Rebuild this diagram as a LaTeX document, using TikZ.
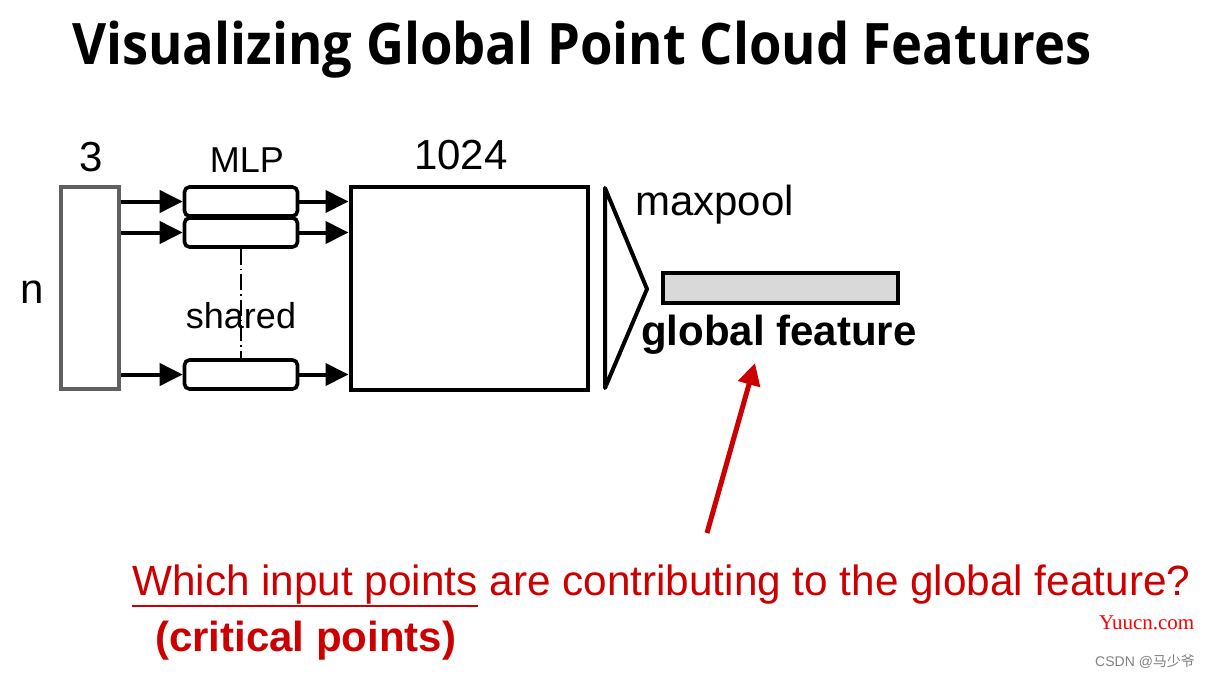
\documentclass[tikz,border=0pt]{standalone}
\usepackage{fontspec}
\usepackage{graphicx}
\setmainfont{Liberation Sans}
\newfontfamily\titlefont{Open Sans}
\newfontfamily\wmfont{Liberation Serif}
\newfontfamily\cjkfont{Noto Sans CJK SC}
\usetikzlibrary{arrows.meta,calc}
\definecolor{redtxt}{HTML}{CC0000}
\definecolor{boxgray}{HTML}{606060}
\definecolor{featgray}{HTML}{D9D9D9}
\newcommand\redul[1]{{\setbox0\hbox{#1}\rlap{\color{redtxt}\rule[-12pt]{\wd0}{1.8pt}}\box0}}
\tikzset{
  blk/.style={draw=black,line width=4pt,inner sep=0pt},
  mlpbox/.style={draw=black,line width=3.6pt,rounded corners=5pt,minimum width=113pt,minimum height=29pt,inner sep=0pt},
  flow/.style={line width=4pt,-{Triangle[length=23pt,width=22pt]}},
  lbl/.style={inner sep=0pt,font=\fontsize{42}{46}\selectfont},
  sml/.style={inner sep=0pt,font=\fontsize{36}{40}\selectfont},
  dd/.style={line width=1.3pt,dash pattern=on 16pt off 4pt on 1.5pt off 4pt},
}
\begin{document}
\begin{tikzpicture}[x=1pt,y=-1pt]
\useasboundingbox (0,0) rectangle (1210,678);
% title
\node[inner sep=0pt,anchor=base west] (title) at (72,64) {\scalebox{1}[1.09]{\titlefont\bfseries\fontsize{52.5}{60}\selectfont Visualizing Global Point Cloud Features}};
% input
\node[blk,draw=boxgray,minimum width=58pt,minimum height=202pt] (in) at (90,288) {};
\node[lbl] (three) at (91,157) {3};
\node[lbl] (n) at (32,292) {n};
% MLP
\node[sml] (mlp) at (247,160) {MLP};
\node[mlpbox] (m1) at (241,201.5) {};
\node[mlpbox] (m2) at (241,232.5) {};
\node[mlpbox] (m3) at (241,374.5) {};
\draw[dd] (m2.south) -- (m3.north);
\node[sml] (shared) at (241,316) {shared};
% big
\node[blk,minimum width=237pt,minimum height=203pt] (big) at (469,288) {};
\node[lbl] (k) at (461,155) {1024};
% arrows
\foreach \m in {m1,m2,m3}{
  \draw[flow] (\m.west -| in.east) -- (\m.west);
  \draw[flow] (\m.east) -- (\m.east -| big.west);
}
% maxpool
\coordinate (p1) at (605,188);
\coordinate (p2) at (647,289);
\coordinate (p3) at (605,388);
\draw[line width=4pt,line join=round] (p1) -- (p2) -- (p3) -- cycle;
\node[lbl,anchor=base west] (mp) at (635,215) {maxpool};
% global feature
\node[blk,fill=featgray,minimum width=235pt,minimum height=30pt] (gf) at (780,288) {};
\node[lbl,anchor=base west,font=\bfseries\fontsize{42}{46}\selectfont] (gft) at (641,345) {global feature};
% red question
\node[inner sep=0pt,anchor=base west,text=redtxt,font=\fontsize{42.3}{46}\selectfont] (q) at (132,595) {\redul{Which input points} are contributing to the global feature?};
\node[inner sep=0pt,anchor=base west,text=redtxt,font=\bfseries\fontsize{42}{46}\selectfont] (cp) at (155,651) {(critical points)};
\coordinate (qa) at (707,533);
\draw[redtxt,line width=5pt,-{Triangle[length=22pt,width=22pt]}] (qa) -- (755,363);
% watermarks
\node[inner sep=0pt,anchor=base west,text=red,font=\wmfont\fontsize{21}{24}\selectfont] (wm1) at (1099,629) {Yuucn.com};
\node[inner sep=0pt,anchor=base west,text=gray,font=\fontsize{14}{16}\selectfont] (wm2) at (1095,666) {CSDN @{\cjkfont 马少爷}};
\end{tikzpicture}
\end{document}
